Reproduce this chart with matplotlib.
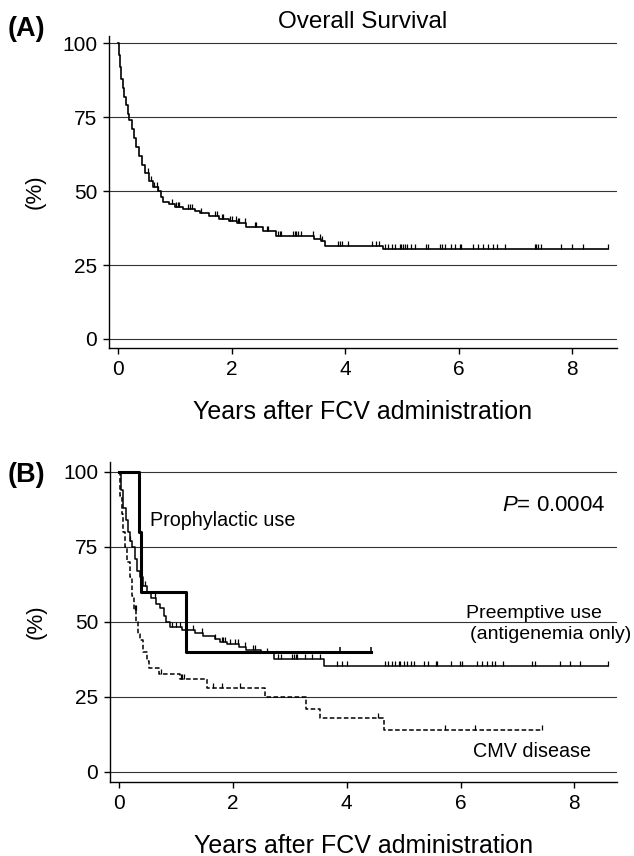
import numpy as np
import matplotlib
matplotlib.use("Agg")
import matplotlib.pyplot as plt
from matplotlib.path import Path

plt.rcParams["font.family"] = ["Liberation Sans", "DejaVu Sans"]
plt.rcParams["mathtext.fontset"] = "custom"
plt.rcParams["mathtext.it"] = "Liberation Sans:italic"
plt.rcParams["mathtext.rm"] = "Liberation Sans"

# ---------------------------------------------------------------------------
# Data (years, % surviving)
# ---------------------------------------------------------------------------
# (A) overall survival
os_time = [0, 0.02, 0.04, 0.06, 0.08, 0.11, 0.14, 0.17, 0.20, 0.24, 0.28,
           0.32, 0.37, 0.42, 0.48, 0.55, 0.62, 0.70, 0.75, 0.80, 0.90, 1.00,
           1.15, 1.35, 1.45, 1.60, 1.78, 1.95, 2.10, 2.25, 2.55, 2.78, 3.45,
           3.58, 3.64, 4.66, 8.63]
os_surv = [100, 96, 92, 88, 85, 82, 79, 76, 74, 71, 68,
           65, 62, 59, 56, 53.5, 51.5, 50, 48, 46.5, 45.5, 44.8,
           43.9, 43.2, 42.6, 41.6, 40.5, 39.8, 39.2, 38.0, 36.5, 34.8, 33.8,
           33.0, 31.3, 30.3, 30.3]
os_cens = [0.53, 0.59, 0.64, 0.68, 0.71, 0.945, 1.02, 1.05, 1.07, 1.24, 1.27,
           1.31, 1.47, 1.71, 1.74, 1.83, 1.85, 1.97, 2.00, 2.08, 2.11, 2.14,
           2.24, 2.41, 2.44, 2.62, 2.65, 2.82, 2.85, 2.88, 3.09, 3.12, 3.14,
           3.17, 3.23, 3.43, 3.56, 3.59, 3.88, 3.91, 3.94, 4.05, 4.47, 4.55,
           4.60, 4.70, 4.76, 4.82, 4.88, 4.96, 4.99, 5.02, 5.05, 5.09, 5.17,
           5.23, 5.42, 5.46, 5.67, 5.70, 5.76, 5.87, 5.93, 6.02, 6.05, 6.26,
           6.34, 6.43, 6.52, 6.61, 6.67, 6.81, 7.34, 7.37, 7.40, 7.46, 7.81,
           7.99, 8.19, 8.63]

# (B) by indication
pre_time = [0, 0.03, 0.07, 0.11, 0.15, 0.19, 0.22, 0.27, 0.32, 0.36, 0.42,
            0.48, 0.56, 0.64, 0.72, 0.78, 0.83, 0.90, 1.10, 1.33, 1.48, 1.68,
            1.77, 1.90, 2.10, 2.22, 2.50, 2.72, 3.60, 8.60]
pre_surv = [100, 94, 88, 84, 80, 77, 75, 71, 67, 65, 62,
            60, 58, 56, 54.5, 52, 50, 48.4, 47.3, 46.4, 45.3, 44.2,
            43.4, 42.6, 41.7, 40.6, 39.5, 37.5, 35.2, 35.2]
pre_cens = [0.19, 0.45, 0.63, 0.92, 1.00, 1.07, 1.30, 1.45, 1.68, 1.80, 1.83,
            1.86, 1.94, 2.03, 2.09, 2.21, 2.35, 2.38, 2.59, 2.79, 2.85, 3.03,
            3.07, 3.10, 3.12, 3.26, 3.38, 3.53, 3.82, 3.91, 4.00, 4.67, 4.73,
            4.79, 4.85, 4.91, 4.93, 5.00, 5.05, 5.13, 5.19, 5.36, 5.42, 5.56,
            5.59, 5.84, 5.99, 6.02, 6.29, 6.38, 6.47, 6.55, 6.61, 6.75, 7.25,
            7.31, 7.75, 7.92, 8.10, 8.60]

pro_time = [0, 0.35, 0.38, 1.18, 4.43]
pro_surv = [100, 80, 60, 40, 40]
pro_cens = [3.88, 4.43]

cmv_time = [0, 0.01, 0.04, 0.07, 0.10, 0.14, 0.18, 0.22, 0.26, 0.30, 0.33,
            0.36, 0.42, 0.48, 0.52, 0.70, 1.07, 1.54, 2.56, 3.29, 3.52, 4.65,
            7.44]
cmv_surv = [100, 92, 86, 80, 75, 70, 65, 58.5, 54, 50, 46,
            44, 40, 37, 34.5, 32.5, 30.8, 28, 25, 21, 17.8, 13.8,
            13.8]
cmv_cens = [0.27, 0.29, 0.74, 1.08, 1.11, 1.14, 1.65, 1.80, 2.12, 4.55, 5.72,
            6.25, 7.44]

Y_TICKS = [0, 25, 50, 75, 100]
X_TICKS = [0, 2, 4, 6, 8]

# censor mark: short vertical stroke going up from the curve
CENSOR = Path([(0, 0), (0, 1)])


def surv_at(times, surv, when):
    idx = np.searchsorted(times, when, side="right") - 1
    return np.asarray(surv)[idx]


def km(ax, times, surv, cens, lw=1.1, ls="-", tick_lw=0.9):
    ax.step(times, surv, where="post", color="black", lw=lw, linestyle=ls,
            dashes=(3, 1.6) if ls == "--" else (None, None), zorder=3)
    ax.plot(cens, surv_at(times, surv, cens), linestyle="none",
            marker=CENSOR, markersize=7.5, markeredgewidth=tick_lw,
            color="black", zorder=3)


def style_axes(ax, xlim, ylim):
    ax.set_xlim(*xlim)
    ax.set_ylim(*ylim)
    for y in Y_TICKS:
        ax.axhline(y, color="#333333", lw=0.8, zorder=1)
    ax.set_yticks(Y_TICKS)
    ax.set_xticks(X_TICKS)
    ax.spines["top"].set_visible(False)
    ax.spines["right"].set_visible(False)
    ax.spines["left"].set_linewidth(1.0)
    ax.spines["bottom"].set_linewidth(1.0)
    ax.tick_params(axis="both", labelsize=15, length=4.5, width=1.0,
                   direction="out", pad=4)
    ax.set_ylabel("(%)", fontsize=16, labelpad=12)
    ax.set_xlabel("Years after FCV administration", fontsize=18, labelpad=15)


W, H = 634, 856
fig = plt.figure(figsize=(W / 100, H / 100), dpi=100)

# ---------------------------------------------------------------------------
# Panel A
# ---------------------------------------------------------------------------
ax_a = fig.add_axes([109 / W, 1 - 348 / H, (617 - 109) / W, (348 - 36) / H])
style_axes(ax_a, (-0.158, 8.79), (-3.05, 102.5))
km(ax_a, os_time, os_surv, os_cens, lw=1.2)
fig.text(363 / W, 1 - 22 / H, "Overall Survival", fontsize=17.5,
         ha="center", va="center")
fig.text(8 / W, 1 - 29 / H, "(A)", fontsize=19.5, fontweight="bold",
         ha="left", va="center")

# ---------------------------------------------------------------------------
# Panel B
# ---------------------------------------------------------------------------
ax_b = fig.add_axes([110 / W, 1 - 782 / H, (617 - 110) / W, (782 - 462) / H])
style_axes(ax_b, (-0.163, 8.75), (-3.44, 103.3))
km(ax_b, pre_time, pre_surv, pre_cens, lw=1.1)
km(ax_b, pro_time, pro_surv, pro_cens, lw=2.2, tick_lw=1.1)
km(ax_b, cmv_time, cmv_surv, cmv_cens, lw=1.1, ls="--")

ax_b.text(0.54, 83.7, "Prophylactic use", fontsize=14.2, va="center")
ax_b.text(8.54, 88.7, r"$\it{P}$= 0.0004", fontsize=16, ha="right",
          va="center")
ax_b.text(6.09, 52.6, "Preemptive use", fontsize=14, va="center")
ax_b.text(6.16, 45.8, "(antigenemia only)", fontsize=14, va="center",
          clip_on=False)
ax_b.text(6.22, 6.7, "CMV disease", fontsize=14.2, va="center")
fig.text(8 / W, 1 - 475 / H, "(B)", fontsize=19.5, fontweight="bold",
         ha="left", va="center")

fig.savefig("out.png", dpi=100)
